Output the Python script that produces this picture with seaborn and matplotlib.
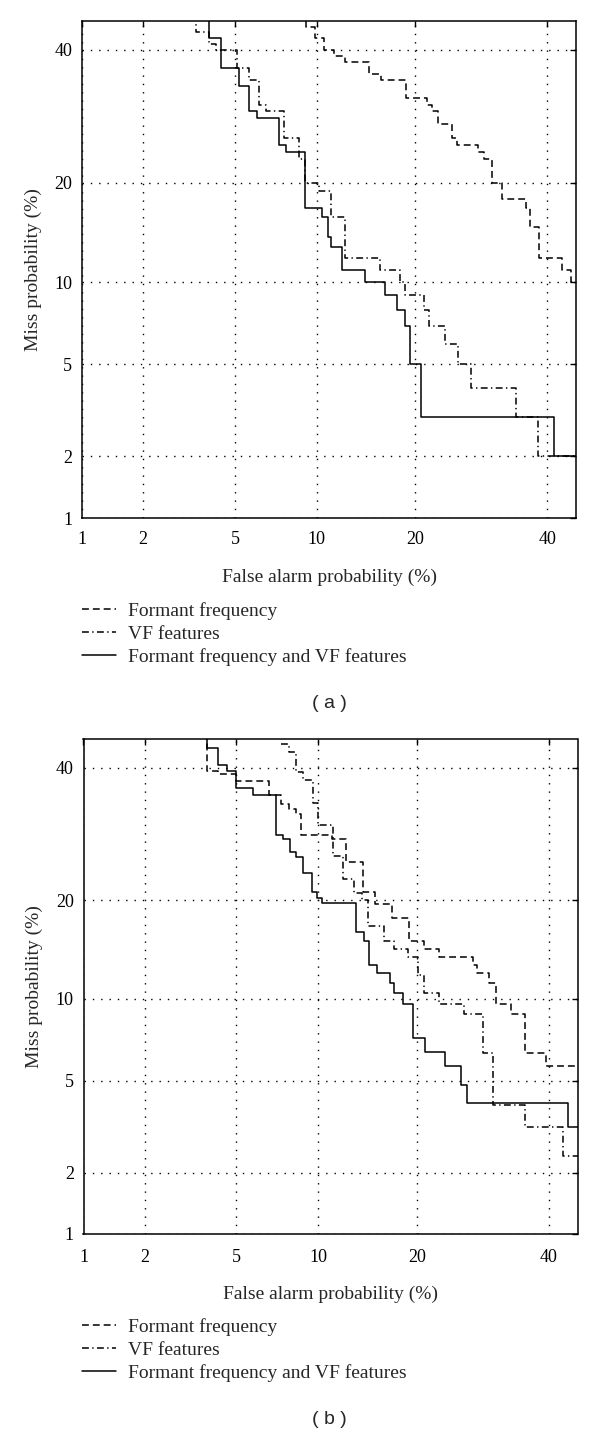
import numpy as np
import pandas as pd
import matplotlib
matplotlib.use("Agg")
import matplotlib.pyplot as plt
import seaborn as sns
from statistics import NormalDist

# DET curves, in percent.
# Each pair is a staircase: (fa[i], miss[i]) starts a horizontal run (steps-post).
names = ["Formant frequency", "VF features", "Formant frequency and VF features"]

# panel (a)
a_formant_fa = [9.2, 9.2, 9.9, 10.6, 11.4, 12.4, 14.7, 16.0, 18.9, 21.5, 22.1, 22.9,
                24.9, 25.6, 28.7, 29.6, 30.9, 32.4, 36.4, 37.1, 38.6, 42.5, 44.1, 50]
a_formant_miss = [50, 44, 42, 40, 39, 38, 36, 35, 32, 31, 30, 28,
                  26, 25, 24, 23, 20, 18, 17, 15, 12, 11, 10, 10]
a_vf_fa = [3.45, 3.45, 3.9, 4.2, 5.1, 5.7, 6.2, 6.6, 7.7, 8.7, 9.1, 10.2, 11.2,
           12.4, 15.9, 18.2, 18.7, 21.1, 21.8, 23.9, 25.7, 27.6, 34.7, 38.4, 50]
a_vf_miss = [50, 43, 41, 40, 37, 35, 31, 30, 26, 23, 20, 19, 16,
             12, 11, 10, 9, 8, 7, 6, 5, 4, 3, 2, 2]
a_both_fa = [3.9, 3.9, 4.4, 5.2, 5.7, 6.1, 7.4, 7.8, 9.1, 10.4, 10.9, 11.2,
             12.1, 14.3, 16.4, 17.8, 18.8, 19.4, 20.7, 41.2, 50]
a_both_miss = [50, 42, 37, 34, 30, 29, 25, 24, 17, 16, 14, 13,
               11, 10, 9, 8, 7, 5, 3, 2, 2]

# panel (b)
b_formant_fa = [3.8, 3.8, 4.2, 5.0, 6.7, 7.4, 7.9, 8.4, 8.7, 11.1, 12.4, 14.0, 15.2,
                17.1, 19.0, 20.9, 22.9, 27.7, 28.3, 30.2, 31.2, 33.6, 35.9, 39.5, 50]
b_formant_miss = [50, 39.5, 38.9, 37.8, 35.4, 33.9, 33.1, 32.3, 29.0, 28.5, 25.1, 21.0, 19.5,
                  17.8, 15.3, 14.5, 13.7, 12.9, 12.2, 11.3, 9.6, 8.9, 6.4, 5.7, 5.7]
b_vf_fa = [7.4, 7.9, 8.4, 8.9, 9.6, 10.0, 11.2, 12.1, 13.1, 13.9, 14.5, 16.2,
           17.3, 18.9, 20.2, 20.9, 22.9, 26.4, 29.2, 30.8, 35.9, 42.4, 50]
b_vf_miss = [44.1, 42.7, 39.2, 37.9, 34.1, 30.5, 25.9, 22.7, 20.9, 20.0, 16.9, 15.3,
             14.5, 13.7, 12.0, 10.5, 9.6, 8.9, 6.4, 4.0, 3.2, 2.4, 2.4]
b_both_fa = [3.8, 3.8, 4.2, 4.6, 5.0, 5.8, 7.1, 7.55, 7.95, 8.4, 8.85, 9.55, 9.9, 10.35,
             13.3, 14.1, 14.6, 15.4, 16.8, 17.3, 18.3, 19.5, 21.1, 23.75, 26.0, 26.9, 43.4, 50]
b_both_miss = [50, 43.4, 40.4, 39.5, 36.5, 35.4, 29.0, 28.5, 26.5, 25.8, 23.5, 21.0, 20.3, 19.6,
               16.3, 15.3, 12.9, 12.2, 11.3, 10.5, 9.6, 7.3, 6.45, 5.7, 4.8, 4.05, 3.2, 3.2]

ticks = [1, 2, 5, 10, 20, 40]
tick_labels = ["1", "2", "5", "10", "20", "40"]

_nd = NormalDist()
_ppf = np.vectorize(lambda v: _nd.inv_cdf(v), otypes=[float])
_cdf = np.vectorize(lambda v: _nd.cdf(v), otypes=[float])


def probit(p):
    p = np.clip(np.asarray(p, dtype=float) / 100.0, 1e-6, 1 - 1e-6)
    return _ppf(p)


def inv_probit(z):
    return _cdf(np.asarray(z, dtype=float)) * 100.0


def det_frame(curves):
    parts = [pd.DataFrame({"fa": fa, "miss": miss, "system": n}) for n, fa, miss in curves]
    return pd.concat(parts, ignore_index=True)


df_a = det_frame([(names[0], a_formant_fa, a_formant_miss),
                  (names[1], a_vf_fa, a_vf_miss),
                  (names[2], a_both_fa, a_both_miss)])
df_b = det_frame([(names[0], b_formant_fa, b_formant_miss),
                  (names[1], b_vf_fa, b_vf_miss),
                  (names[2], b_both_fa, b_both_miss)])

sns.set_theme(style="white")
plt.rcParams["font.family"] = ["Liberation Serif", "DejaVu Serif"]
plt.rcParams["axes.edgecolor"] = "black"
plt.rcParams["axes.linewidth"] = 1.1

dash_map = {names[0]: (4.5, 2.6), names[1]: (4.5, 2.2, 0.9, 2.2), names[2]: ""}
colors = {n: "black" for n in names}

fig = plt.figure(figsize=(6, 14.34), dpi=100)
ax_a = fig.add_axes([82 / 600, 1 - 518 / 1434, 494 / 600, 497 / 1434])
ax_b = fig.add_axes([83.5 / 600, 1 - 1234 / 1434, 494 / 600, 495 / 1434])

# axes, bottom edge in px, x tick pad, xlabel pad, caption
panels = [(ax_a, df_a, 518, 9, 15, "( a )"), (ax_b, df_b, 1234, 11, 14, "( b )")]
for ax, df, bottom_px, xpad, xlpad, caption in panels:
    sns.lineplot(data=df, x="fa", y="miss", hue="system", style="system",
                 hue_order=names, style_order=names, palette=colors, dashes=dash_map,
                 estimator=None, sort=False, drawstyle="steps-post",
                 linewidth=1.1, legend=False, ax=ax)
    ax.set_xscale("function", functions=(probit, inv_probit))
    ax.set_yscale("function", functions=(probit, inv_probit))
    ax.set_xlim(1, 45)
    ax.set_ylim(1, 45)
    ax.set_xticks(ticks)
    ax.set_xticklabels(tick_labels)
    ax.set_yticks(ticks)
    ax.set_yticklabels(tick_labels)
    ax.minorticks_off()
    ax.grid(True, color="black", linestyle=(0, (1, 5)), linewidth=1.0)
    ax.tick_params(direction="in", top=True, right=True, length=4, width=1,
                   labelsize=13, colors="black")
    ax.tick_params(axis="x", pad=xpad)
    ax.tick_params(axis="y", pad=7)
    for s in ax.spines.values():
        s.set_color("black")
        s.set_linewidth(1.1)
    ax.set_xlabel("False alarm probability (%)", fontsize=14, labelpad=xlpad)
    ax.set_ylabel("Miss probability (%)", fontsize=14, labelpad=9)

    handles = ax.get_lines()[:3]
    ax.legend(handles, names, loc="upper left",
              bbox_to_anchor=(82 / 600, 1 - (bottom_px + 84) / 1434),
              bbox_transform=fig.transFigure, frameon=False, borderpad=0,
              borderaxespad=0, handlelength=1.75, handletextpad=0.6,
              labelspacing=0.28, fontsize=14)

    fig.text(329 / 600, 1 - (bottom_px + 186) / 1434, caption,
             family="Liberation Sans", fontsize=14, ha="center", va="center")

fig.savefig("out.png", dpi=100)
